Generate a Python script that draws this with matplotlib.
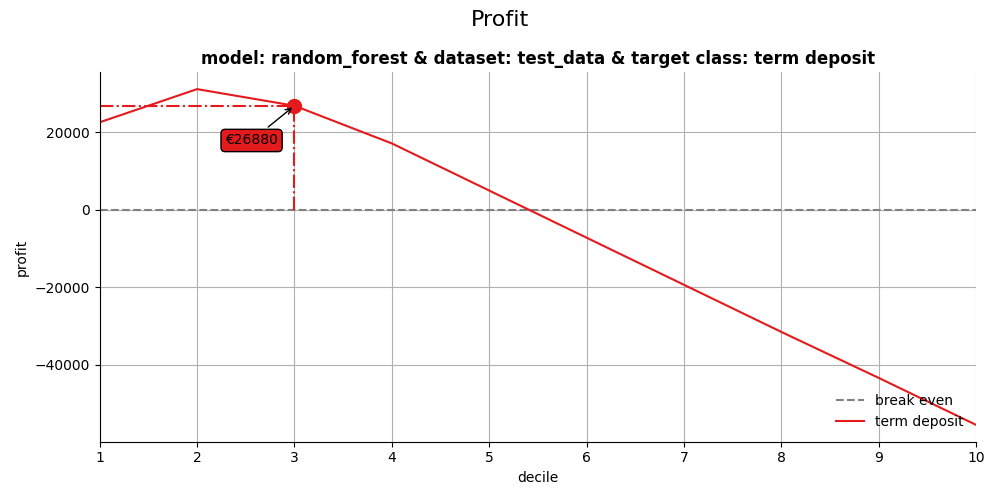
import matplotlib
matplotlib.use("Agg")
import matplotlib.pyplot as plt

# profit per decile
deciles = [1, 2, 3, 4, 5, 6, 7, 8, 9, 10]
profit = [22600, 31170, 26880, 17140, 4960, -7220, -19400, -31580, -43460, -55600]
break_even = [0] * len(deciles)
best_decile = 3
best_profit = 26880
red = '#e41a1c'

fig, ax = plt.subplots(figsize=(10, 5), dpi=100)
fig.suptitle('Profit', fontsize=16)
ax.set_title('model: random_forest & dataset: test_data & target class: term deposit',
             fontweight='bold', fontsize=12)

ax.plot(deciles, break_even, '--', color='grey', label='break even')
ax.plot(deciles, profit, '-', color=red, label='term deposit')

# highlight the max profit point
ax.plot([deciles[0], best_decile], [best_profit, best_profit], '-.', color=red)
ax.plot([best_decile, best_decile], [0, best_profit], '-.', color=red)
ax.plot(best_decile, best_profit, 'o', color=red, markersize=10)
ax.annotate('€%d' % best_profit, xy=(best_decile, best_profit), xytext=(2.56, 17900),
            ha='center', va='center',
            bbox=dict(boxstyle='round', fc=red, ec='black'),
            arrowprops=dict(arrowstyle='->', color='black'))

ax.set_xlim(1, 10)
ax.set_xticks(deciles)
ax.grid(True, color='#b0b0b0')
ax.spines['top'].set_visible(False)
ax.spines['right'].set_visible(False)
ax.set_xlabel('decile')
ax.set_ylabel('profit')
ax.legend(loc='lower right', frameon=False)

fig.tight_layout()
fig.savefig('out.png')
